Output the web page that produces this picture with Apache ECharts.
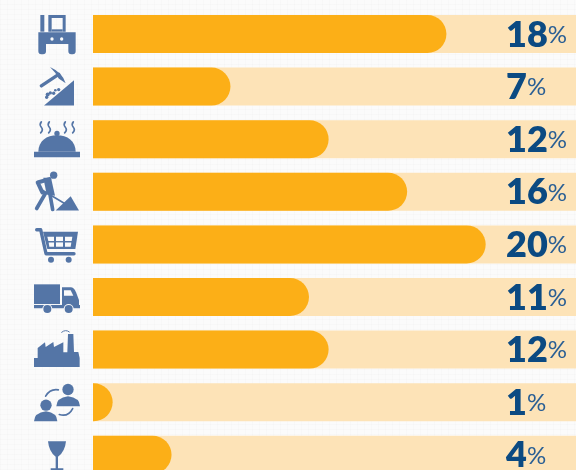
<!DOCTYPE html>
<html>
<head>
<meta charset="utf-8">
<style>
html,body{margin:0;padding:0;width:576px;height:470px;overflow:hidden;
background-color:#fbfbfb;
background-image:
 repeating-linear-gradient(0deg,rgba(120,120,120,.025) 0 1px,transparent 1px 5px),
 repeating-linear-gradient(90deg,rgba(120,120,120,.025) 0 1px,transparent 1px 7px);}
#c{width:576px;height:490px;}
</style>
<script src="https://cdn.jsdelivr.net/npm/echarts@6/dist/echarts.min.js"></script>
</head>
<body>
<div id="c"></div>
<script>
const categories = ['Agriculture','Mining','Hospitality','Construction','Retail','Transport','Manufacturing','Services','Beverages'];
const shares = [18,7,12,16,20,11,12,1,4];
const axisMax = 24.6;

const BLUE = '#5475A6', BG = '#fafafa';
const f = d => ({d, fill: BLUE});
const h = d => ({d, fill: BG});
const s = (d, w) => ({d, stroke: BLUE, w});
const circ = (x,y,r) => `M${x-r} ${y}A${r} ${r} 0 1 1 ${x+r} ${y}A${r} ${r} 0 1 1 ${x-r} ${y}Z`;

const icons = {
  Agriculture: [
    f('M121 -57H133V-7H121Z'),
    f('M145 -57H197V-7H188V-48H155V-7H145Z'),
    f('M155 -14H188V-7H155Z'),
    f('M115 -5H227V52Q227 61 218 61H214Q205 61 205 52V30H138V52Q138 61 129 61H124Q115 61 115 52Z'),
    h(circ(156,15,5)), h(circ(185,15,5))
  ],
  Mining: [
    f('M132 57L222 -19V57Z'),
    s('M124 -2L176 -37', 10),
    f('M150 -59Q188 -42 197 -10L176 -24Q168 -42 150 -59Z'),
    f(circ(143,24,6)), f(circ(151,19,5)), f(circ(161,20,5)), f(circ(176,9,5)), f(circ(140,32,5)), f(circ(166,11,4))
  ],
  Hospitality: [
    f('M102 38H240V54H102Z'),
    f('M115 38C115 5 140 -12 171 -12C202 -12 227 5 227 38Z'),
    f(circ(171,-17,8)),
    s('M124 -52q-7 8 0 16q7 8 -2 17', 5),
    s('M148 -52q-7 8 0 16q7 8 -2 17', 5),
    s('M196 -52q-7 8 0 16q7 8 -2 17', 5),
    s('M220 -52q-7 8 0 16q7 8 -2 17', 5)
  ],
  Construction: [
    f(circ(161,-50,11)),
    f('M130 -42H153L165 12L140 8Z'),
    s('M148 -38L113 -28L127 2', 12),
    s('M136 5L110 50', 11),
    s('M150 8L158 53', 11),
    s('M125 -6L195 36', 5),
    f('M167 56L212 13L237 56Z')
  ],
  Retail: [
    s('M110 -44H122L138 28H222', 10),
    f('M129 -38H234L226 14H142Z'),
    h('M142 -23H162V-10H145Z'), h('M168 -23H189V-10H168Z'), h('M195 -23H217L215 -10H195Z'),
    h('M146 -6H162V7H148Z'), h('M168 -6H189V7H168Z'), h('M195 -6H214L212 7H195Z'),
    f(circ(153,46,9)), f(circ(206,46,9))
  ],
  Transport: [
    f('M102 -38H180V21H102Z'),
    f('M186 -29H212Q222 -29 228 -14L237 10V26H186Z'),
    h('M192 -20H212L220 -4H192Z'),
    f('M102 24H240V34H102Z'),
    h(circ(142,36,15)), h(circ(206,36,15)),
    f(circ(142,36,12)), f(circ(206,36,12))
  ],
  Manufacturing: [
    f('M102 52V25H113V-5L135 -22L137 -8L160 -23L162 -8L190 -22V8H202L204 -47H220L222 7H235L239 25V52Z'),
    s('M185 -52Q197 -62 208 -53', 3)
  ],
  Services: [
    f(circ(204,-38,17)),
    f('M169 12Q169 -13 204 -18Q240 -13 240 12Z'),
    f(circ(138,9,17)),
    f('M102 57Q102 32 138 27Q172 32 172 57Z'),
    s('M137 -18Q150 -41 175 -37', 5),
    s('M178 37Q205 45 218 19', 5)
  ],
  Beverages: [
    f('M144 -41H198Q195 -10 174 6V40H190V47H152V40H167V6Q147 -10 144 -41Z')
  ]
};

const chart = echarts.init(document.getElementById('c'), null, {renderer:'canvas'});
chart.setOption({
  animation:false,
  backgroundColor:'transparent',
  grid:{left:93, top:7.7, width:483, height:473.4, containLabel:false},
  xAxis:{type:'value', min:0, max:axisMax, show:false},
  yAxis:{type:'category', inverse:true, data:categories, show:false},
  series:[
    {
      type:'bar',
      data:shares,
      barWidth:38,
      showBackground:true,
      backgroundStyle:{color:'#FDE3B7', borderRadius:0},
      itemStyle:{color:'#FCAF17', borderRadius:[0,19,19,0]},
      label:{
        show:true,
        position:[413,'50%'],
        offset:[0,1],
        verticalAlign:'middle',
        align:'left',
        formatter:p => `{n|${p.value}}{p|%}`,
        rich:{
          n:{fontFamily:'Lato', fontWeight:800, fontSize:36, color:'#0B4A82'},
          p:{fontFamily:'Lato', fontWeight:400, fontSize:24, color:'#2A5F94'}
        }
      }
    },
    {
      type:'custom',
      coordinateSystem:'cartesian2d',
      silent:true,
      clip:false,
      data:categories.map(c => [0,c]),
      encode:{x:0,y:1},
      renderItem:(params, api) => {
        const cy = api.coord([0, params.dataIndex])[1];
        const name = categories[params.dataIndex];
        return {
          type:'group',
          children: icons[name].map(p => ({
            type:'path',
            x:0, y:cy, scaleX:1/3, scaleY:1/3,
            shape:{pathData:p.d},
            style: p.stroke
              ? {fill:'none', stroke:p.stroke, lineWidth:p.w, lineCap:'round', lineJoin:'round'}
              : {fill:p.fill}
          }))
        };
      }
    }
  ]
});
</script>
</body>
</html>
